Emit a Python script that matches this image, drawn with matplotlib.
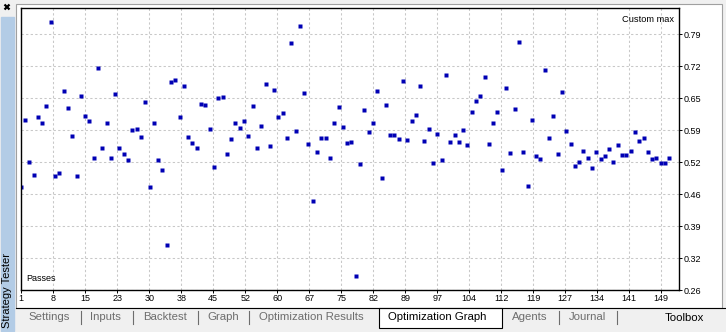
import numpy as np
import matplotlib.pyplot as plt
from matplotlib.patches import Rectangle

plt.rcParams["font.family"] = ["Liberation Sans", "DejaVu Sans"]

# one value per optimization pass
passes = list(range(1, 153))
custom_max = [
    0.474, 0.612, 0.526, 0.499, 0.619, 0.606, 0.641, 0.815, 0.495, 0.503,
    0.672, 0.637, 0.579, 0.495, 0.662, 0.621, 0.610, 0.534, 0.720, 0.555,
    0.606, 0.534, 0.666, 0.555, 0.542, 0.530, 0.592, 0.594, 0.577, 0.650,
    0.474, 0.606, 0.530, 0.509, 0.354, 0.691, 0.695, 0.619, 0.683, 0.577,
    0.565, 0.553, 0.646, 0.643, 0.594, 0.515, 0.658, 0.660, 0.542, 0.573,
    0.606, 0.596, 0.610, 0.579, 0.641, 0.555, 0.600, 0.687, 0.559, 0.674,
    0.619, 0.627, 0.575, 0.771, 0.590, 0.807, 0.668, 0.563, 0.445, 0.546,
    0.575, 0.575, 0.534, 0.606, 0.639, 0.598, 0.565, 0.567, 0.288, 0.520,
    0.633, 0.588, 0.606, 0.672, 0.491, 0.643, 0.581, 0.581, 0.573, 0.693,
    0.571, 0.610, 0.623, 0.683, 0.569, 0.594, 0.522, 0.584, 0.530, 0.705,
    0.567, 0.581, 0.567, 0.592, 0.561, 0.629, 0.652, 0.662, 0.701, 0.563,
    0.606, 0.629, 0.509, 0.679, 0.544, 0.635, 0.774, 0.546, 0.476, 0.612,
    0.538, 0.532, 0.716, 0.575, 0.621, 0.542, 0.670, 0.590, 0.563, 0.517,
    0.526, 0.548, 0.534, 0.513, 0.546, 0.532, 0.538, 0.551, 0.524, 0.561,
    0.540, 0.540, 0.548, 0.588, 0.569, 0.575, 0.546, 0.532, 0.534, 0.522,
    0.522, 0.534,
]
y_tick_labels = ["0.26", "0.32", "0.39", "0.46", "0.52", "0.59", "0.65", "0.72", "0.79"]
x_tick_labels = ["1", "8", "15", "23", "30", "38", "45", "52", "60", "67", "75",
                 "82", "89", "97", "104", "112", "119", "127", "134", "141", "149"]
tab_names = ["Settings", "Inputs", "Backtest", "Graph", "Optimization Results",
             "Optimization Graph", "Agents", "Journal"]
active_tab = "Optimization Graph"

W, H = 726, 332
fig = plt.figure(figsize=(W / 100, H / 100), dpi=100)

# window chrome drawn in pixel coordinates
ov = fig.add_axes([0, 0, 1, 1], zorder=0)
ov.set_xlim(0, W)
ov.set_ylim(H, 0)
ov.axis("off")
ov.add_patch(Rectangle((0, 0), W, H, color="#f0f0f0"))
ov.add_patch(Rectangle((15.5, 3.5), 706, 304, facecolor="white", edgecolor="#a0a0a0", lw=0.8))
ov.plot([15.5, W], [307.5, 307.5], color="black", lw=0.8)
ov.add_patch(Rectangle((1, 17), 13, 314, color="#b3cce6"))
ov.plot([4.5, 9.5], [4.5, 9.5], color="black", lw=1.6, solid_capstyle="butt")
ov.plot([4.5, 9.5], [9.5, 4.5], color="black", lw=1.6, solid_capstyle="butt")
ov.text(7.5, 328, "Strategy Tester", rotation=90, ha="center", va="bottom", fontsize=8, color="black")

tab_x = [28, 90, 143, 207, 259, 388, 512, 569]
sep_x = [80.7, 133, 198, 249, 559, 617]
for name, x in zip(tab_names, tab_x):
    if name == active_tab:
        ov.add_patch(Rectangle((378.5, 307.5), 123, 20, facecolor="white", edgecolor="black", lw=0.8))
        ov.text(x, 317.5, name, ha="left", va="center", fontsize=8.2, color="black")
    else:
        ov.text(x, 317.5, name, ha="left", va="center", fontsize=8.2, color="#6d6d6d")
for x in sep_x:
    ov.plot([x, x], [311, 324], color="#6d6d6d", lw=0.8)
ov.text(665, 318, "Toolbox", ha="left", va="center", fontsize=8.2, color="black")

# plot area
left_px, right_px, top_px, bottom_px = 20.5, 678.5, 8, 290
ax = fig.add_axes([left_px / W, (H - bottom_px) / H, (right_px - left_px) / W, (bottom_px - top_px) / H], zorder=2)
ax.set_facecolor("white")

px_per_pass = 4.2956
first_px = 20.67
ax.set_xlim(1 + (left_px - first_px) / px_per_pass, 1 + (right_px - first_px) / px_per_pass)
y_step = 0.06625
ax.set_ylim(0.26, 0.26 + (bottom_px - top_px) / 32.0 * y_step)

x_ticks = [1 + (21.3 + 32 * k - first_px) / px_per_pass for k in range(len(x_tick_labels))]
y_ticks = [0.26 + k * y_step for k in range(len(y_tick_labels))]
ax.set_xticks(x_ticks)
ax.set_xticklabels(x_tick_labels)
ax.set_yticks(y_ticks)
ax.set_yticklabels(y_tick_labels)
ax.yaxis.tick_right()
ax.tick_params(axis="both", direction="out", length=2.2, width=0.7, labelsize=6.5, colors="black")
ax.tick_params(axis="x", pad=1)
ax.tick_params(axis="y", pad=1.5)
ax.grid(True, color="#c8c8c8", linestyle=(0, (2.2, 2.2)), linewidth=0.75)
ax.set_axisbelow(True)
for sp in ax.spines.values():
    sp.set_color("black")
    sp.set_linewidth(1.0)

ax.plot(passes, custom_max, "s", color="#0000b4", ms=2.4, mec="none")

ax.text(0.993, 0.975, "Custom max", transform=ax.transAxes, ha="right", va="top", fontsize=6.7)
ax.text(0.008, 0.025, "Passes", transform=ax.transAxes, ha="left", va="bottom", fontsize=6.5)

fig.savefig("out.png", dpi=100)
